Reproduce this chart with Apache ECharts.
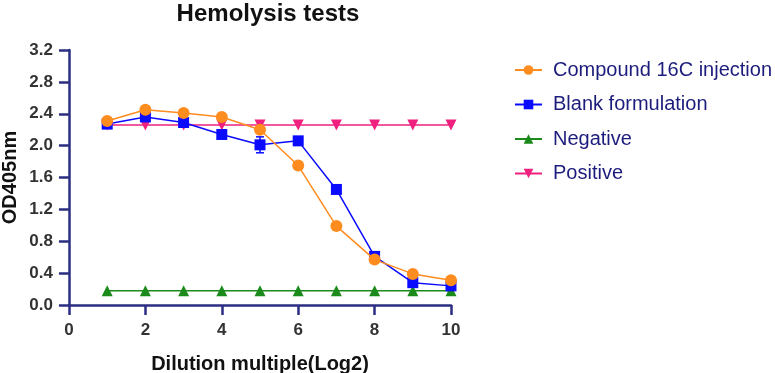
<!DOCTYPE html>
<html>
<head>
<meta charset="utf-8">
<script src="https://cdn.jsdelivr.net/npm/echarts@6/dist/echarts.min.js"></script>
<style>
html, body { margin: 0; padding: 0; background: #fff; }
#chart { width: 775px; height: 373px; }
</style>
</head>
<body>
<div id="chart"></div>
<script>
// dilution (log2)
var dilution = [1, 2, 3, 4, 5, 6, 7, 8, 9, 10];
var compound16C = [2.31, 2.45, 2.41, 2.36, 2.20, 1.75, 0.99, 0.57, 0.39, 0.31];
var blankFormulation = [2.27, 2.36, 2.29, 2.14, 2.01, 2.06, 1.45, 0.61, 0.28, 0.24];
var negative = [0.18, 0.18, 0.18, 0.18, 0.18, 0.18, 0.18, 0.18, 0.18, 0.18];
var positive = [2.26, 2.26, 2.26, 2.26, 2.26, 2.26, 2.26, 2.26, 2.26, 2.26];
// error bars of blank formulation: [x, low, high]
var blankErrors = [[5, 1.91, 2.11]];

var names = ['Compound 16C injection', 'Blank formulation', 'Negative', 'Positive'];

function pairs(values) {
	var out = [];
	for (var i = 0; i < dilution.length; i++) {
		out.push([dilution[i], values[i]]);
	}
	return out;
}

var axisColor = '#2b2e83';
var fontFamily = '"Liberation Sans", Arial, sans-serif';

var myChart = echarts.init(document.getElementById('chart'));
var option = {
	animation: false,
	textStyle: { fontFamily: fontFamily },
	title: {
		text: 'Hemolysis tests',
		left: 263,
		textAlign: 'center',
		top: -3,
		textStyle: { fontSize: 24, fontWeight: 'bold', color: '#111', fontFamily: fontFamily }
	},
	legend: {
		orient: 'vertical',
		left: 509,
		top: 55,
		itemWidth: 27,
		itemHeight: 12,
		itemGap: 14.5,
		textStyle: { fontSize: 20, color: '#1c1c7c', fontFamily: fontFamily, padding: [0, 0, 0, 6] },
		data: names
	},
	grid: { left: 69, right: 324, top: 50, bottom: 68, containLabel: false, outerBoundsMode: 'none' },
	xAxis: {
		type: 'value',
		min: 0,
		max: 10,
		interval: 2,
		name: 'Dilution multiple(Log2)',
		nameLocation: 'middle',
		nameGap: 49,
		nameTextStyle: { fontSize: 20, fontWeight: 'bold', color: '#111' },
		axisLine: { lineStyle: { color: axisColor, width: 2.5 } },
		axisTick: { show: true, length: 10, lineStyle: { color: axisColor, width: 2.5 } },
		axisLabel: { fontSize: 17, fontWeight: 'bold', color: '#333', margin: 17 },
		splitLine: { show: false }
	},
	yAxis: {
		type: 'value',
		min: 0,
		max: 3.2,
		interval: 0.4,
		name: 'OD405nm',
		nameLocation: 'middle',
		nameGap: 49,
		nameTextStyle: { fontSize: 20, fontWeight: 'bold', color: '#111' },
		axisLine: { show: true, lineStyle: { color: axisColor, width: 2.5 } },
		axisTick: { show: true, length: 10, lineStyle: { color: axisColor, width: 2.5 } },
		axisLabel: {
			fontSize: 17, fontWeight: 'bold', color: '#333', margin: 16,
			formatter: function (v) { return v.toFixed(1); }
		},
		splitLine: { show: false }
	},
	series: [
		{
			name: names[3],
			type: 'line',
			data: pairs(positive),
			symbol: 'triangle',
			symbolRotate: 180,
			symbolSize: 11,
			color: '#f0207f',
			lineStyle: { width: 1.5 },
			z: 2
		},
		{
			name: names[2],
			type: 'line',
			data: pairs(negative),
			symbol: 'triangle',
			symbolSize: 11,
			color: '#1a8a1a',
			lineStyle: { width: 1.5 },
			z: 2
		},
		{
			name: names[1],
			type: 'line',
			data: pairs(blankFormulation),
			symbol: 'rect',
			symbolSize: 11,
			color: '#0a0aff',
			lineStyle: { width: 1.5 },
			z: 3
		},
		{
			name: 'blankErr',
			type: 'custom',
			data: blankErrors,
			z: 3,
			renderItem: function (params, api) {
				var x = api.value(0);
				var lo = api.coord([x, api.value(1)]);
				var hi = api.coord([x, api.value(2)]);
				var w = 4;
				var style = { stroke: '#0a0aff', lineWidth: 1.5 };
				return {
					type: 'group',
					children: [
						{ type: 'line', shape: { x1: lo[0], y1: lo[1], x2: hi[0], y2: hi[1] }, style: style },
						{ type: 'line', shape: { x1: lo[0] - w, y1: lo[1], x2: lo[0] + w, y2: lo[1] }, style: style },
						{ type: 'line', shape: { x1: hi[0] - w, y1: hi[1], x2: hi[0] + w, y2: hi[1] }, style: style }
					]
				};
			}
		},
		{
			name: names[0],
			type: 'line',
			data: pairs(compound16C),
			symbol: 'circle',
			symbolSize: 12,
			color: '#ff8c1f',
			lineStyle: { width: 1.5 },
			z: 4
		}
	]
};
myChart.setOption(option);
</script>
</body>
</html>
